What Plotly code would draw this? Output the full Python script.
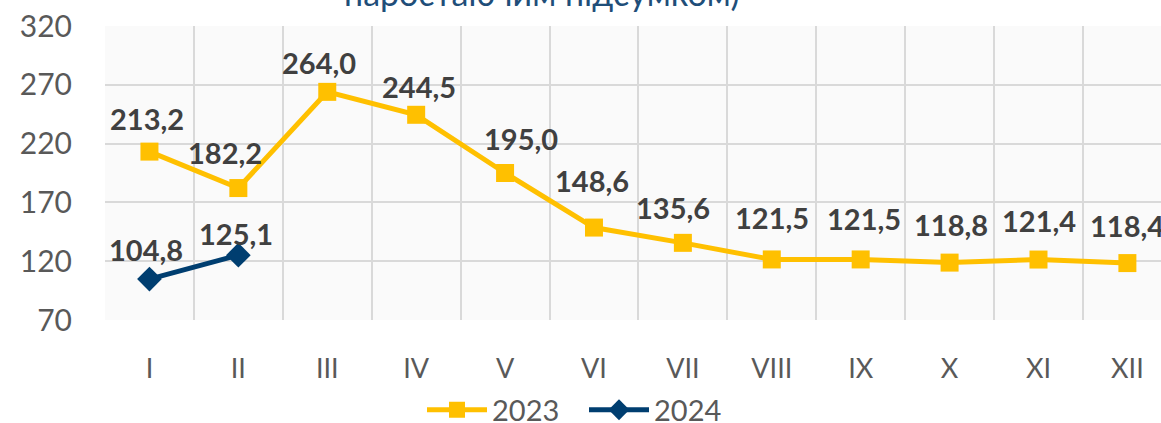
import plotly.graph_objects as go

months = ["I", "II", "III", "IV", "V", "VI", "VII", "VIII", "IX", "X", "XI", "XII"]
values_2023 = [213.2, 182.2, 264.0, 244.5, 195.0, 148.6, 135.6, 121.5, 121.5, 118.8, 121.4, 118.4]
months_2024 = ["I", "II"]
values_2024 = [104.8, 125.1]
y_ticks = [70, 120, 170, 220, 270, 320]
title_text = "наростаючим підсумком)"

# label offsets (pixels) from each marker, as placed in the reference
label_dx_2023 = [-2, -13, -8, 3, 16, -2, -10, 0, 3, 1, 1, 0]
label_dy_2023 = [33, 36, 29, 28, 35, 47, 35, 42, 41, 38, 39, 38]
label_dx_2024 = [-3, -2]
label_dy_2024 = [30, 22]

YELLOW = "#FFC000"
NAVY = "#003E70"
FONT = "Lato"
LABEL_FONT = dict(family=FONT, size=29, color="#404040", weight="bold")


def fmt(v):
    return f"{v:.1f}".replace(".", ",")


fig = go.Figure()
fig.add_trace(go.Scatter(
    x=months, y=values_2023, name="2023", mode="lines+markers",
    line=dict(color=YELLOW, width=5),
    marker=dict(symbol="square", size=18, color=YELLOW),
    cliponaxis=False,
))
fig.add_trace(go.Scatter(
    x=months_2024, y=values_2024, name="2024", mode="lines+markers",
    line=dict(color=NAVY, width=5),
    marker=dict(symbol="diamond", size=19, color=NAVY),
    cliponaxis=False,
))

annotations = []
for m, v, dx, dy in zip(months, values_2023, label_dx_2023, label_dy_2023):
    annotations.append(dict(x=m, y=v, xref="x", yref="y", text=fmt(v), showarrow=False,
                            xanchor="center", yanchor="middle", xshift=dx, yshift=dy,
                            font=LABEL_FONT))
for m, v, dx, dy in zip(months_2024, values_2024, label_dx_2024, label_dy_2024):
    annotations.append(dict(x=m, y=v, xref="x", yref="y", text=fmt(v), showarrow=False,
                            xanchor="center", yanchor="middle", xshift=dx, yshift=dy,
                            font=LABEL_FONT))
annotations.append(dict(text=title_text, xref="paper", yref="paper", x=0.414, y=1.0,
                        yshift=11, xanchor="center", yanchor="bottom", showarrow=False,
                        font=dict(family=FONT, size=34, color="#1F4E79")))

fig.update_layout(
    width=1161, height=423,
    margin=dict(l=105, r=0, t=26, b=103, autoexpand=False),
    paper_bgcolor="white", plot_bgcolor="#FAFAFA",
    font=dict(family=FONT, color="#595959", size=28),
    showlegend=True,
    legend=dict(orientation="h", x=0.4536, xanchor="center", xref="paper",
                y=0.031, yanchor="middle", yref="container",
                font=dict(size=29, color="#595959"), itemwidth=60,
                entrywidth=87, traceorder="normal"),
    annotations=annotations,
)
fig.update_xaxes(
    type="category", categoryorder="array", categoryarray=months,
    range=[-0.5, 11.378], tickson="boundaries", showgrid=True, automargin=False,
    gridcolor="#D9D9D9", gridwidth=2, ticks="", ticklabelstandoff=30,
    zeroline=False, showline=False,
    tickfont=dict(size=27, color="#595959"),
)
fig.update_yaxes(
    range=[70, 320], tickvals=y_ticks, showgrid=True, gridcolor="#D9D9D9",
    automargin=False,
    gridwidth=2, ticks="", ticklabelstandoff=32, zeroline=False, showline=False,
    tickfont=dict(size=30, color="#595959"),
)

fig.write_html(
    "out.html",
    config={"displayModeBar": False},
    post_script="document.body.style.margin='0';document.body.style.overflow='hidden';",
)
